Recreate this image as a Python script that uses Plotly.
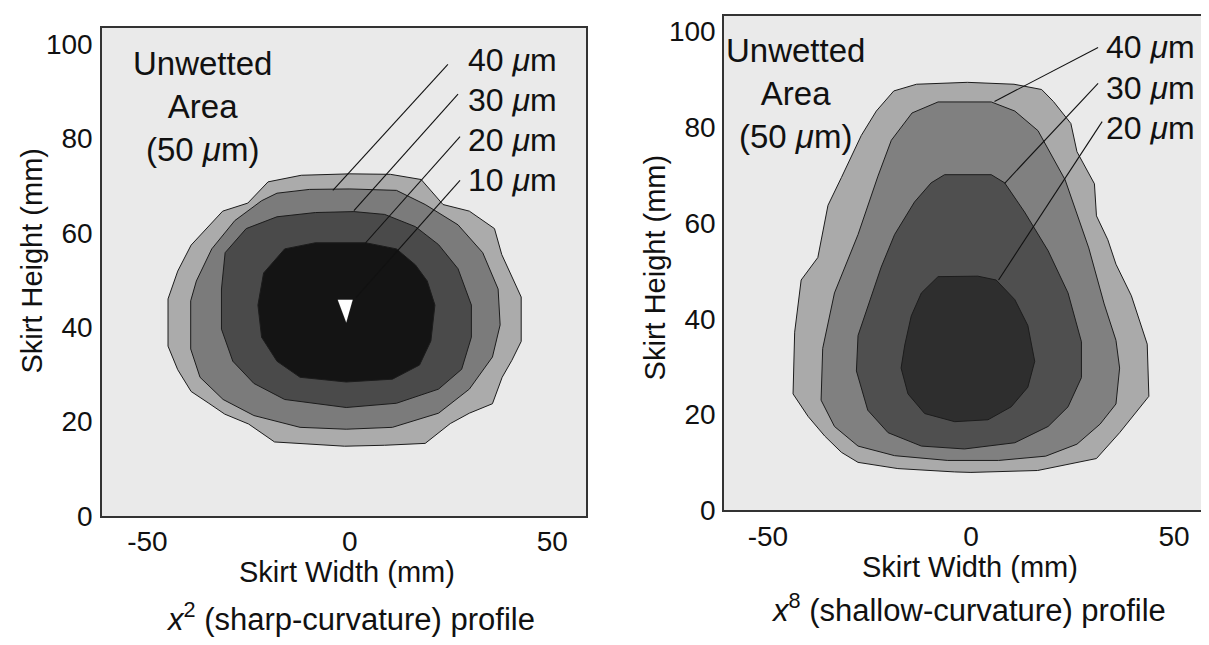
import plotly.graph_objects as go

# ---------------- data ----------------
# Left panel: x^2 (sharp-curvature) profile, contour boundaries (mm)
left_50_x = [-20.2, -12.0, 0.0, 10.0, 17.6, 23.0, 29.5, 35.7, 37.5, 42.3, 42.3, 40.0, 37.6, 35.2, 29.5, 24.8, 18.6, 8.6, -1.3, -18.6, -25.0, -30.9, -35.0, -39.2, -42.5, -44.9, -44.9, -42.5, -39.2, -31.4, -25.2]
left_50_y = [70.8, 72.2, 72.5, 72.4, 71.3, 66.0, 64.6, 60.9, 55.4, 46.4, 37.0, 33.0, 29.4, 23.8, 21.8, 19.6, 15.4, 15.0, 14.8, 15.7, 19.5, 21.6, 24.0, 26.4, 31.0, 36.0, 46.0, 51.9, 57.4, 64.6, 66.3]
left_40_x = [-18.0, -10.0, 0.0, 11.5, 18.6, 26.7, 32.8, 36.6, 37.1, 35.2, 29.5, 21.9, 10.5, -0.9, -12.3, -23.7, -31.3, -37.0, -39.3, -39.3, -37.9, -34.1, -28.4, -21.8]
left_40_y = [68.4, 69.2, 69.3, 69.0, 66.0, 61.7, 55.8, 48.1, 40.5, 33.7, 26.9, 21.8, 18.8, 18.4, 18.8, 21.3, 24.7, 29.4, 35.4, 45.6, 49.8, 56.6, 62.6, 66.8]
left_30_x = [-8.5, 1.0, 8.6, 16.2, 21.9, 26.7, 30.0, 30.0, 27.6, 21.9, 11.5, -0.9, -16.1, -23.7, -28.9, -31.7, -31.7, -30.8, -25.6, -18.0]
left_30_y = [64.3, 64.5, 63.9, 61.3, 57.5, 52.4, 44.7, 37.9, 31.1, 26.9, 23.9, 23.0, 24.7, 28.1, 32.8, 39.6, 48.1, 55.8, 60.9, 63.4]
left_20_x = [-8.5, 3.9, 11.5, 16.2, 19.1, 21.0, 20.0, 17.2, 10.5, -0.9, -12.3, -18.0, -21.8, -22.7, -21.3, -16.1]
left_20_y = [57.9, 57.9, 56.6, 53.2, 49.8, 44.7, 37.1, 32.0, 29.0, 28.4, 29.4, 32.8, 37.9, 44.7, 51.5, 56.6]
left_10_x = [-3.0, 0.7, -0.9]
left_10_y = [45.8, 45.8, 41.0]

# Right panel: x^8 (shallow-curvature) profile
right_50_x = [-19.0, -13.4, -0.9, 10.6, 17.4, 20.3, 24.6, 26.1, 30.4, 30.9, 33.7, 35.7, 39.5, 43.4, 43.8, 41.4, 36.6, 30.9, 16.4, 0.0, -4.0, -18.0, -27.8, -31.9, -36.0, -40.1, -43.8, -43.4, -41.8, -37.7, -35.2, -31.9, -27.0, -23.3]
right_50_y = [87.6, 89.0, 89.4, 89.0, 87.9, 85.4, 80.8, 74.9, 68.2, 61.5, 56.5, 51.4, 44.8, 34.7, 23.8, 21.3, 16.2, 10.8, 8.3, 7.9, 8.0, 8.7, 10.0, 12.1, 15.5, 19.6, 24.3, 37.2, 48.1, 52.8, 63.7, 69.5, 78.3, 83.4]
right_40_x = [-8.1, 5.0, 10.8, 16.5, 23.2, 29.0, 32.8, 35.7, 36.6, 35.7, 31.8, 26.1, 18.4, 6.8, -5.7, -18.8, -27.8, -33.6, -36.9, -36.5, -33.6, -27.8, -22.9, -19.6, -14.5]
right_40_y = [85.3, 85.3, 83.4, 79.3, 69.0, 54.8, 43.1, 35.5, 29.7, 22.2, 18.0, 13.8, 11.3, 10.4, 10.4, 11.4, 13.4, 17.5, 23.0, 33.8, 45.4, 57.6, 69.8, 77.3, 83.0]
right_30_x = [-6.5, 5.0, 8.3, 13.2, 19.0, 23.9, 27.2, 27.2, 23.9, 19.0, 10.8, -1.6, -12.2, -20.4, -25.4, -28.2, -27.8, -25.4, -22.1, -18.8, -13.9, -9.8]
right_30_y = [70.1, 70.1, 68.4, 62.3, 54.2, 45.4, 35.2, 27.7, 21.6, 17.5, 14.1, 12.8, 13.4, 16.2, 20.9, 29.1, 36.5, 42.6, 50.8, 57.6, 64.4, 68.4]
right_20_x = [-8.1, 1.7, 6.2, 10.8, 14.0, 15.7, 14.0, 9.9, 4.2, -4.0, -11.4, -15.5, -17.2, -16.3, -14.7, -12.2]
right_20_y = [48.8, 48.9, 48.1, 44.0, 38.6, 31.1, 25.7, 21.6, 18.9, 18.5, 20.2, 24.3, 29.7, 34.5, 40.6, 45.4]

# Level labels and leader lines
left_labels = ["40 <i>μ</i>m", "30 <i>μ</i>m", "20 <i>μ</i>m", "10 <i>μ</i>m"]
left_label_y = [96.6, 88.1, 79.6, 71.1]
left_label_x = 28.6
left_lead_x0 = [24.2, 26.7, 27.2, 27.2]
left_lead_y0 = [95.7, 89.4, 80.4, 71.1]
left_lead_x1 = [-4.2, 1.0, 3.9, 1.5]
left_lead_y1 = [69.0, 64.7, 57.9, 46.3]

right_labels = ["40 <i>μ</i>m", "30 <i>μ</i>m", "20 <i>μ</i>m"]
right_label_y = [96.7, 88.3, 79.9]
right_label_x = 32.8
right_lead_x0 = [31.3, 31.3, 32.3]
right_lead_y0 = [96.7, 89.2, 81.2]
right_lead_x1 = [5.8, 8.3, 6.8]
right_lead_y1 = [85.4, 68.3, 48.1]

unwetted_text = "Unwetted<br>Area<br>(50 <i>μ</i>m)"
x_ticks = [-50, 0, 50]
x_tick_text = ["-50", "0", "50"]
y_ticks = [0, 20, 40, 60, 80, 100]
y_tick_text = ["0", "20", "40", "60", "80", "100"]
left_caption = "<i>x</i><sup>2</sup> (sharp-curvature) profile"
right_caption = "<i>x</i><sup>8</sup> (shallow-curvature) profile"

# ---------------- styling ----------------
FONT = "Liberation Sans, Arial, sans-serif"
W, H = 1209, 645
left_colors = ["#ababab", "#7b7b7b", "#4a4a4a", "#141414", "#ffffff"]
right_colors = ["#aaaaaa", "#808080", "#4f4f4f", "#2e2e2e"]

fig = go.Figure()


def poly(xs, ys, color, xa, ya, outline=True):
    fig.add_trace(go.Scatter(
        x=list(xs) + [xs[0]], y=list(ys) + [ys[0]],
        mode="lines", fill="toself", fillcolor=color,
        line=dict(color="#1c1c1c" if outline else color, width=1 if outline else 0.1),
        xaxis=xa, yaxis=ya, hoverinfo="skip", showlegend=False))


for (xs, ys), c in zip([(left_50_x, left_50_y), (left_40_x, left_40_y),
                        (left_30_x, left_30_y), (left_20_x, left_20_y)], left_colors):
    poly(xs, ys, c, "x", "y")
poly(left_10_x, left_10_y, left_colors[4], "x", "y", outline=False)

for (xs, ys), c in zip([(right_50_x, right_50_y), (right_40_x, right_40_y),
                        (right_30_x, right_30_y), (right_20_x, right_20_y)], right_colors):
    poly(xs, ys, c, "x2", "y2")


def leaders(x0, y0, x1, y1, xa, ya):
    lx, ly = [], []
    for a, b, c, d in zip(x0, y0, x1, y1):
        lx += [a, c, None]
        ly += [b, d, None]
    fig.add_trace(go.Scatter(x=lx, y=ly, mode="lines",
                             line=dict(color="#111111", width=1.1),
                             xaxis=xa, yaxis=ya, hoverinfo="skip", showlegend=False))


leaders(left_lead_x0, left_lead_y0, left_lead_x1, left_lead_y1, "x", "y")
leaders(right_lead_x0, right_lead_y0, right_lead_x1, right_lead_y1, "x2", "y2")

annotations = []
for t, yv in zip(left_labels, left_label_y):
    annotations.append(dict(x=left_label_x, y=yv, xref="x", yref="y", text=t,
                            xanchor="left", yanchor="middle", showarrow=False,
                            font=dict(size=32, color="#111", family=FONT)))
for t, yv in zip(right_labels, right_label_y):
    annotations.append(dict(x=right_label_x, y=yv, xref="x2", yref="y2", text=t,
                            xanchor="left", yanchor="middle", showarrow=False,
                            font=dict(size=32, color="#111", family=FONT)))
annotations.append(dict(x=-36.5, y=86.8, xref="x", yref="y", text=unwetted_text,
                        xanchor="center", yanchor="middle", showarrow=False,
                        font=dict(size=33, color="#111", family=FONT)))
annotations.append(dict(x=-43.2, y=87.1, xref="x2", yref="y2", text=unwetted_text,
                        xanchor="center", yanchor="middle", showarrow=False,
                        font=dict(size=33, color="#111", family=FONT)))


def paper_text(px, py, text, size, angle=0):
    annotations.append(dict(x=px / W, y=1 - py / H, xref="paper", yref="paper", text=text,
                            xanchor="center", yanchor="middle", showarrow=False, textangle=angle,
                            font=dict(size=size, color="#111", family=FONT)))


paper_text(339, 578, "Skirt Width (mm)", 29)
paper_text(962, 573, "Skirt Width (mm)", 29)
paper_text(24, 259, "Skirt Height (mm)", 29, angle=-90)
paper_text(647, 266, "Skirt Height (mm)", 29, angle=-90)
paper_text(342, 624, left_caption, 31)
paper_text(960, 615, right_caption, 31)

axis_common = dict(showgrid=False, zeroline=False, showline=True, mirror=True,
                   linecolor="#333333", linewidth=1.5, ticks="")
tick_font = dict(size=28, color="#111", family=FONT)

fig.update_layout(
    width=W, height=H,
    margin=dict(l=0, r=0, t=0, b=0),
    paper_bgcolor="white",
    plot_bgcolor="#eaeaea",
    showlegend=False,
    xaxis=dict(domain=[94 / W, 578 / W], range=[-61.2, 58.3], tickvals=x_ticks,
               ticktext=x_tick_text, tickfont=tick_font,
               anchor="y", **axis_common),
    yaxis=dict(domain=[1 - 521 / H, 1 - 20 / H], range=[0, 103.5], tickvals=y_ticks,
               ticktext=y_tick_text, tickfont=tick_font,
               anchor="x", ticklabelstandoff=2, **axis_common),
    xaxis2=dict(domain=[716 / W, 1203 / W], range=[-60.8, 59.1], tickvals=x_ticks,
                ticktext=x_tick_text, tickfont=tick_font,
                anchor="y2", **axis_common),
    yaxis2=dict(domain=[1 - 515 / H, 1 - 8 / H], range=[0, 103.3], tickvals=y_ticks,
                ticktext=y_tick_text, tickfont=tick_font,
                anchor="x2", ticklabelstandoff=1, **axis_common),
    annotations=annotations,
)

fig.write_html("out.html")
